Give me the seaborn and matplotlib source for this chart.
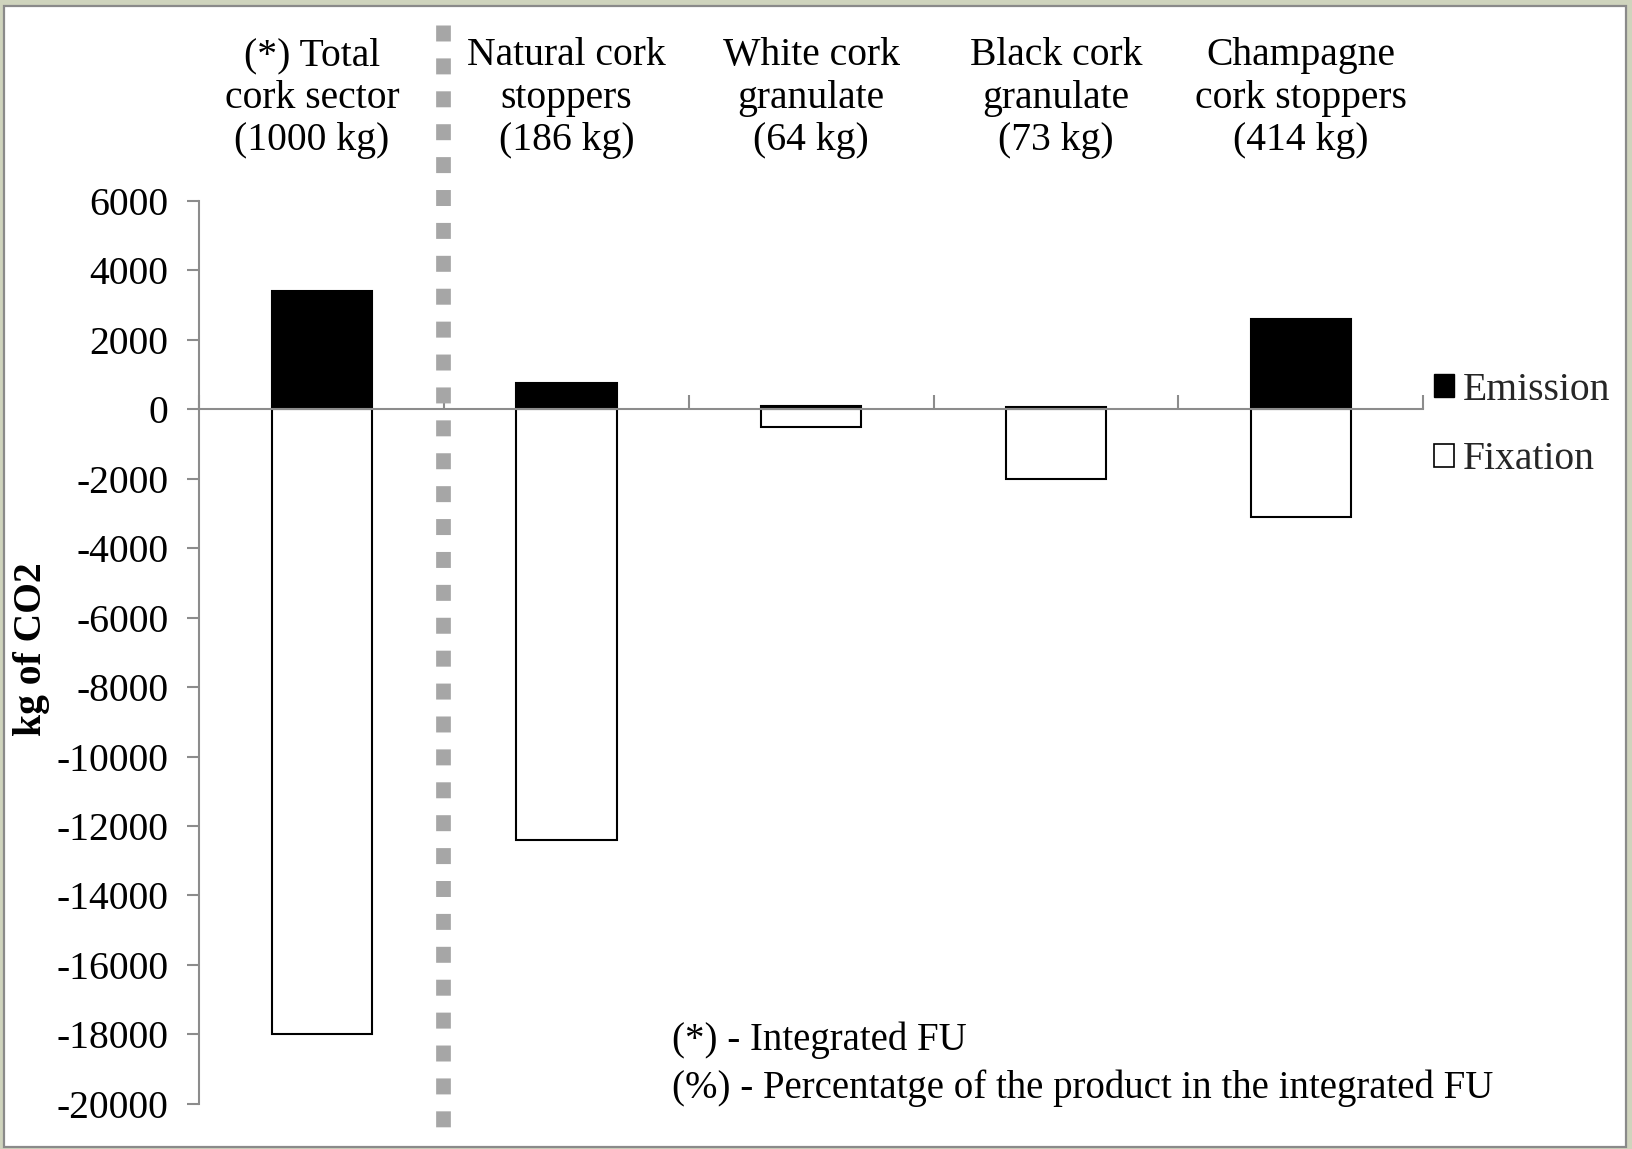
import matplotlib
matplotlib.use("Agg")
import matplotlib.pyplot as plt
import matplotlib.transforms as mtransforms
from matplotlib.patches import Rectangle, Patch
from matplotlib.lines import Line2D
import seaborn as sns
import pandas as pd

categories = ["(*) Total\ncork sector\n(1000 kg)",
              "Natural cork\nstoppers\n(186 kg)",
              "White cork\ngranulate\n(64 kg)",
              "Black cork\ngranulate\n(73 kg)",
              "Champagne\ncork stoppers\n(414 kg)"]
emission = [3400, 750, 90, 80, 2600]
fixation = [-18000, -12400, -500, -2000, -3100]
series = ["Emission", "Fixation"]
yticks = list(range(-20000, 6001, 2000))
footnotes = ["(*) - Integrated FU",
             "(%) - Percentatge of the product in the integrated FU"]

df = pd.DataFrame({
    "category": categories * 2,
    "type": ["Emission"] * len(categories) + ["Fixation"] * len(categories),
    "value": emission + fixation,
})

sns.set_theme(style="white")
plt.rcParams["font.family"] = ["Liberation Serif", "DejaVu Serif"]
FS = 28.5
GRAY = "#8c8c8c"

fig = plt.figure(figsize=(16.33, 11.49), dpi=100)
fig.patch.set_facecolor("#cfd4bd")
W, H = 1633, 1149
fig.patches.append(Rectangle((4 / W, 2 / H), (1626 - 4) / W, (1147 - 6) / H,
                             transform=fig.transFigure, facecolor="white",
                             edgecolor="#8a8a8a", linewidth=1.6, zorder=-5))

ax = fig.add_axes([199.3 / W, 45.3 / H, (1423.3 - 199.3) / W, (1103.7 - 201) / H])
ax.set_facecolor("none")

sns.barplot(data=df, x="category", y="value", hue="type", dodge=False,
            palette={"Emission": "black", "Fixation": "white"},
            edgecolor="black", linewidth=1.5, width=0.41, errorbar=None,
            legend=False, ax=ax)

ax.set_ylim(-20000, 6000)
ax.set_xlim(-0.5, len(categories) - 0.5)
ax.set_yticks(yticks)
ax.set_yticklabels([str(v) for v in yticks], fontsize=FS, color="black")
ax.tick_params(axis="y", direction="out", length=9, width=1.5, color=GRAY,
               pad=13, left=True)
ax.set_xticks([i - 0.5 for i in range(len(categories) + 1)])
ax.set_xticklabels([])
ax.tick_params(axis="x", direction="in", length=10, width=1.5, color=GRAY,
               bottom=True)
ax.set_xlabel("")
ax.set_ylabel("")
for s in ["top", "right"]:
    ax.spines[s].set_visible(False)
ax.spines["left"].set_color(GRAY)
ax.spines["left"].set_linewidth(1.5)
ax.spines["bottom"].set_color(GRAY)
ax.spines["bottom"].set_linewidth(1.5)
ax.spines["bottom"].set_position(("data", 0))
ax.grid(False)

trans = mtransforms.blended_transform_factory(ax.transData, ax.transAxes)
for i, lab in enumerate(categories):
    dx = -0.04 if i == 0 else 0.0
    ax.text(i + dx, 1.1174 - 3 / 902.7, lab, transform=trans, ha="center",
            va="center", fontsize=FS, linespacing=1.2, color="black")

handles = [Patch(facecolor="black", edgecolor="black", linewidth=1.0),
           Patch(facecolor="white", edgecolor="black", linewidth=1.2)]
fig.legend(handles, series, loc="center left",
           bbox_to_anchor=(1434 / W, 1 - 425 / H), frameon=False,
           fontsize=FS, handlelength=0.5, handleheight=0.5,
           handletextpad=0.22, labelspacing=0.83, borderpad=0,
           borderaxespad=0)

fig.text(32 / W, 1 - 649 / H, "kg of CO2", rotation=90, ha="center",
         va="center", fontsize=FS, fontweight="bold", color="black")

fig.text(671.7 / W, 1 - 1050 / H, footnotes[0], ha="left", va="baseline",
         fontsize=FS - 0.5, color="black")
fig.text(671.7 / W, 1 - 1098 / H, footnotes[1], ha="left", va="baseline",
         fontsize=FS - 0.5, color="black")

ln = Line2D([443.4 / W, 443.4 / W], [1 - 25 / H, 1 - 1143 / H],
            transform=fig.transFigure, color="#a6a6a6", linewidth=10.6,
            solid_capstyle="butt", dash_capstyle="butt",
            linestyle=(0, (1.085, 1.15)), zorder=5)
fig.lines.append(ln)

fig.savefig("out.png", dpi=100, facecolor=fig.get_facecolor())
